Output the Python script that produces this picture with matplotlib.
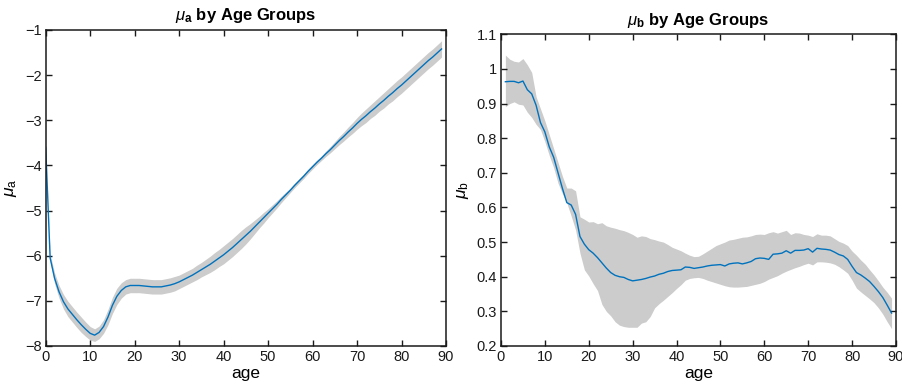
import numpy as np
import matplotlib
matplotlib.use('Agg')
import matplotlib.pyplot as plt
from matplotlib.ticker import FuncFormatter

plt.rcParams['font.family'] = ['Liberation Sans', 'DejaVu Sans']
plt.rcParams['mathtext.fontset'] = 'custom'
plt.rcParams['mathtext.rm'] = 'Liberation Sans'
plt.rcParams['mathtext.it'] = 'Liberation Sans:italic'
plt.rcParams['mathtext.bf'] = 'Liberation Sans:bold'

# mu_a, ages 0..89
age_a = np.arange(0, 90)
mu_a = [-3.60, -6.05, -6.50, -6.80, -7.02, -7.18, -7.30, -7.42, -7.53, -7.63,
        -7.72, -7.76, -7.70, -7.57, -7.36, -7.10, -6.90, -6.77, -6.69, -6.66,
        -6.66, -6.66, -6.67, -6.68, -6.69, -6.69, -6.69, -6.67, -6.65, -6.62,
        -6.58, -6.53, -6.48, -6.43, -6.37, -6.31, -6.25, -6.19, -6.12, -6.05,
        -5.98, -5.90, -5.82, -5.73, -5.64, -5.55, -5.46, -5.36, -5.26, -5.16,
        -5.06, -4.96, -4.86, -4.75, -4.65, -4.55, -4.44, -4.34, -4.24, -4.13,
        -4.03, -3.93, -3.84, -3.74, -3.65, -3.55, -3.45, -3.36, -3.26, -3.17,
        -3.07, -2.98, -2.90, -2.81, -2.73, -2.64, -2.56, -2.47, -2.39, -2.30,
        -2.22, -2.13, -2.04, -1.95, -1.86, -1.77, -1.68, -1.60, -1.51, -1.42]
# half width of the band around mu_a
ci_a = [0.02, 0.08, 0.12, 0.14, 0.16, 0.17, 0.17, 0.17, 0.17, 0.16,
        0.15, 0.14, 0.14, 0.15, 0.17, 0.18, 0.18, 0.17, 0.16, 0.16,
        0.16, 0.16, 0.16, 0.16, 0.16, 0.16, 0.16, 0.16, 0.16, 0.16,
        0.15, 0.15, 0.15, 0.15, 0.16, 0.16, 0.17, 0.18, 0.19, 0.19,
        0.20, 0.20, 0.20, 0.20, 0.20, 0.19, 0.17, 0.15, 0.13, 0.12,
        0.10, 0.09, 0.08, 0.07, 0.06, 0.05, 0.05, 0.05, 0.05, 0.05,
        0.05, 0.05, 0.05, 0.06, 0.07, 0.08, 0.09, 0.10, 0.11, 0.12,
        0.13, 0.14, 0.15, 0.15, 0.16, 0.16, 0.17, 0.17, 0.18, 0.18,
        0.18, 0.18, 0.18, 0.18, 0.18, 0.18, 0.18, 0.18, 0.18, 0.18]

# mu_b, ages 1..89
age_b = np.arange(1, 90)
mu_b = [0.963, 0.964, 0.964, 0.960, 0.965, 0.940, 0.928, 0.895, 0.845, 0.818,
        0.775, 0.745, 0.700, 0.655, 0.614, 0.607, 0.580, 0.516, 0.494, 0.478,
        0.468, 0.455, 0.440, 0.425, 0.412, 0.404, 0.400, 0.398, 0.392, 0.388,
        0.390, 0.392, 0.395, 0.399, 0.402, 0.407, 0.410, 0.415, 0.418, 0.419,
        0.420, 0.428, 0.427, 0.424, 0.426, 0.428, 0.431, 0.433, 0.434, 0.435,
        0.431, 0.437, 0.439, 0.440, 0.437, 0.440, 0.444, 0.452, 0.454, 0.453,
        0.450, 0.465, 0.466, 0.468, 0.475, 0.468, 0.476, 0.476, 0.477, 0.481,
        0.471, 0.482, 0.480, 0.479, 0.477, 0.471, 0.464, 0.460, 0.450, 0.430,
        0.412, 0.405, 0.396, 0.386, 0.372, 0.357, 0.340, 0.318, 0.295]
hi_b = [1.040, 1.028, 1.022, 1.020, 1.030, 1.012, 0.990, 0.920, 0.885, 0.850,
        0.810, 0.770, 0.730, 0.690, 0.656, 0.656, 0.648, 0.573, 0.566, 0.558,
        0.559, 0.553, 0.556, 0.547, 0.543, 0.540, 0.536, 0.533, 0.528, 0.522,
        0.514, 0.518, 0.516, 0.510, 0.507, 0.503, 0.500, 0.493, 0.485, 0.480,
        0.475, 0.468, 0.462, 0.458, 0.459, 0.466, 0.474, 0.482, 0.490, 0.495,
        0.500, 0.506, 0.508, 0.511, 0.514, 0.515, 0.518, 0.522, 0.523, 0.522,
        0.527, 0.530, 0.526, 0.530, 0.534, 0.522, 0.527, 0.526, 0.522, 0.520,
        0.516, 0.524, 0.520, 0.520, 0.518, 0.510, 0.502, 0.497, 0.490, 0.474,
        0.462, 0.448, 0.436, 0.420, 0.405, 0.388, 0.370, 0.355, 0.338]
lo_b = [0.891, 0.900, 0.905, 0.898, 0.896, 0.875, 0.860, 0.840, 0.825, 0.790,
        0.750, 0.715, 0.670, 0.640, 0.613, 0.575, 0.535, 0.468, 0.420, 0.402,
        0.380, 0.360, 0.320, 0.300, 0.287, 0.270, 0.260, 0.256, 0.254, 0.254,
        0.254, 0.266, 0.270, 0.285, 0.310, 0.322, 0.332, 0.343, 0.354, 0.366,
        0.377, 0.390, 0.395, 0.397, 0.398, 0.395, 0.390, 0.386, 0.382, 0.378,
        0.374, 0.371, 0.370, 0.370, 0.371, 0.372, 0.375, 0.378, 0.381, 0.386,
        0.393, 0.398, 0.403, 0.410, 0.416, 0.421, 0.426, 0.430, 0.435, 0.439,
        0.434, 0.443, 0.443, 0.442, 0.440, 0.436, 0.429, 0.420, 0.410, 0.390,
        0.367, 0.356, 0.346, 0.336, 0.325, 0.310, 0.292, 0.270, 0.250]

line_col = '#0072BD'
band_col = '#cccccc'
ax_col = '#1a1a1a'


def style_axes(ax):
    for s in ax.spines.values():
        s.set_color(ax_col)
        s.set_linewidth(1.1)
    ax.tick_params(direction='in', top=True, right=True, length=4.5,
                   width=1.0, color=ax_col, labelsize=10.5, pad=3,
                   labelcolor='#1a1a1a')
    ax.set_xlim(0, 90)
    ax.set_xticks(np.arange(0, 91, 10))
    ax.set_xlabel('age', fontsize=12.5, labelpad=1)


fig = plt.figure(figsize=(9.03, 3.87), dpi=100)
ax1 = fig.add_axes([0.0506, 0.106, 0.4433, 0.8165])
ax2 = fig.add_axes([0.5548, 0.106, 0.4374, 0.8054])

mu_a_arr = np.array(mu_a)
ci_a_arr = np.array(ci_a)
ax1.fill_between(age_a, mu_a_arr - ci_a_arr, mu_a_arr + ci_a_arr,
                 color=band_col, linewidth=0)
ax1.plot(age_a, mu_a, color=line_col, linewidth=1.0)
style_axes(ax1)
ax1.set_ylim(-8, -1)
ax1.set_yticks(np.arange(-8, 0, 1))
ax1.set_ylabel(r'$\mu_\mathrm{a}$', fontsize=12.5, labelpad=4)
ax1.set_title(r'$\mu_\mathbf{a}$ by Age Groups', fontsize=12,
              fontweight='bold', pad=7)

ax2.fill_between(age_b, lo_b, hi_b, color=band_col, linewidth=0)
ax2.plot(age_b, mu_b, color=line_col, linewidth=1.0)
style_axes(ax2)
ax2.set_ylim(0.2, 1.1)
ax2.set_yticks(np.round(np.arange(0.2, 1.11, 0.1), 1))
ax2.yaxis.set_major_formatter(FuncFormatter(lambda v, p: '%g' % round(v, 1)))
ax2.set_ylabel(r'$\mu_\mathrm{b}$', fontsize=12.5, labelpad=4)
ax2.set_title(r'$\mu_\mathbf{b}$ by Age Groups', fontsize=12,
              fontweight='bold', pad=7)

fig.savefig('out.png', dpi=100)
